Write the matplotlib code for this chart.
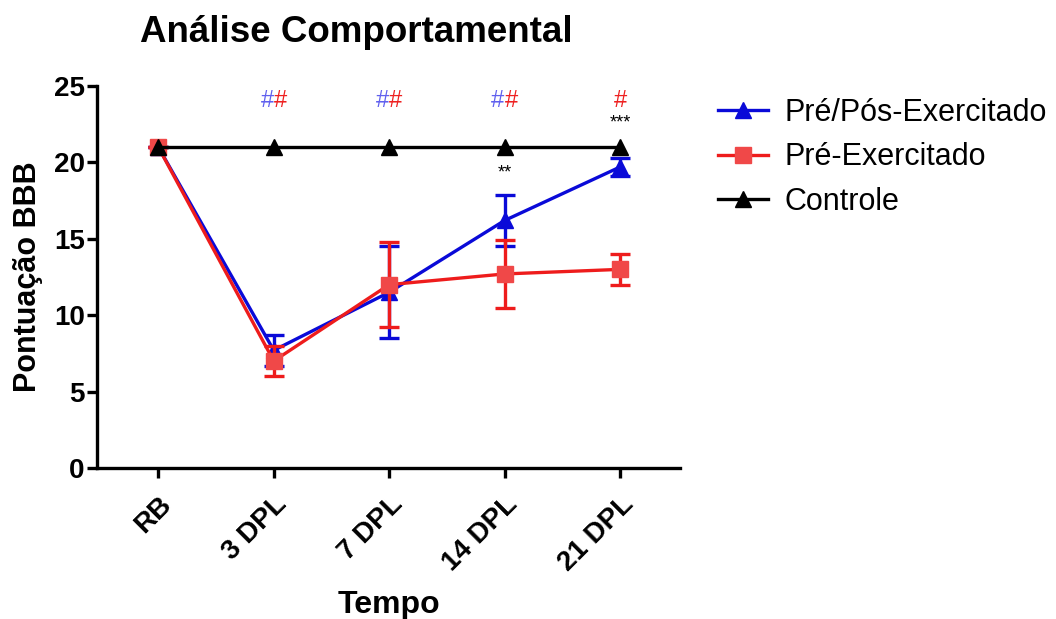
import numpy as np
import matplotlib
matplotlib.use('Agg')
import matplotlib.pyplot as plt

plt.rcParams['font.family'] = ['Liberation Sans', 'DejaVu Sans']

# --- Data ---
tempos = ['RB', '3 DPL', '7 DPL', '14 DPL', '21 DPL']
pre_pos_mean = [21.0, 7.7, 11.5, 16.2, 19.7]
pre_pos_err = [0.0, 1.0, 3.0, 1.7, 0.6]
pre_mean = [21.0, 7.0, 12.0, 12.7, 13.0]
pre_err = [0.0, 1.0, 2.8, 2.2, 1.0]
controle_mean = [21.0, 21.0, 21.0, 21.0, 21.0]

# significance marks
hash_blue = [1, 2, 3]
hash_red = [1, 2, 3, 4]
hash_y = 24.0
stars = [(3, 19.3, '**'), (4, 22.6, '***')]

# --- Plot ---
fig = plt.figure(figsize=(10.56, 6.19), dpi=100)
ax = fig.add_axes([0.092, 0.244, 0.552, 0.617])

x = np.arange(len(tempos))
lw = 2.4
ax.errorbar(x, pre_pos_mean, yerr=pre_pos_err, fmt='none', ecolor='#0a0ad8',
            capsize=7, capthick=lw, elinewidth=lw, zorder=3)
l1, = ax.plot(x, pre_pos_mean, color='#0a0ad8', lw=lw, marker='^', ms=11, zorder=3)
ax.errorbar(x, pre_mean, yerr=pre_err, fmt='none', ecolor='#ee1c1c',
            capsize=7, capthick=lw, elinewidth=lw, zorder=4)
l2, = ax.plot(x, pre_mean, color='#ee1c1c', mfc='#f04848', mec='#f04848', lw=lw,
              marker='s', ms=11, zorder=4)
l3, = ax.plot(x, controle_mean, color='black', lw=lw, marker='^', ms=11, zorder=5)

for i in hash_blue:
    ax.text(i, hash_y, '#', color='#6060ee', ha='right', va='center', fontsize=17)
for i in hash_red:
    ha = 'left' if i in hash_blue else 'center'
    ax.text(i, hash_y, '#', color='#ee2020', ha=ha, va='center', fontsize=17)
for i, yv, s in stars:
    ax.text(i, yv, s, color='black', ha='center', va='center', fontsize=13)

ax.set_xlim(-0.53, 4.52)
ax.set_ylim(0, 25)
ax.set_yticks([0, 5, 10, 15, 20, 25])
ax.set_xticks(x)
ax.set_xticklabels(tempos, rotation=45, ha='right', rotation_mode='anchor')
for lab in ax.get_xticklabels() + ax.get_yticklabels():
    lab.set_fontweight('bold')
    lab.set_fontsize(20)

ax.spines['top'].set_visible(False)
ax.spines['right'].set_visible(False)
ax.spines['left'].set_linewidth(lw)
ax.spines['bottom'].set_linewidth(lw)
ax.tick_params(width=lw, length=7)
ax.tick_params(axis='x', pad=10)
ax.tick_params(axis='y', pad=2)

ax.set_xlabel('Tempo', fontsize=23, fontweight='bold', labelpad=10)
ax.set_ylabel('Pontuação BBB', fontsize=22, fontweight='bold', labelpad=8)
fig.text(0.337, 0.948, 'Análise Comportamental', fontsize=26.5, fontweight='bold',
         ha='center', va='center')

ax.legend([l1, l2, l3], ['Pré/Pós-Exercitado', 'Pré-Exercitado', 'Controle'],
          loc='upper left', bbox_to_anchor=(0.668, 0.862), bbox_transform=fig.transFigure,
          frameon=False, fontsize=22, handlelength=1.65, labelspacing=0.48, borderaxespad=0,
          handletextpad=0.55)

fig.savefig('out.png', dpi=100)
